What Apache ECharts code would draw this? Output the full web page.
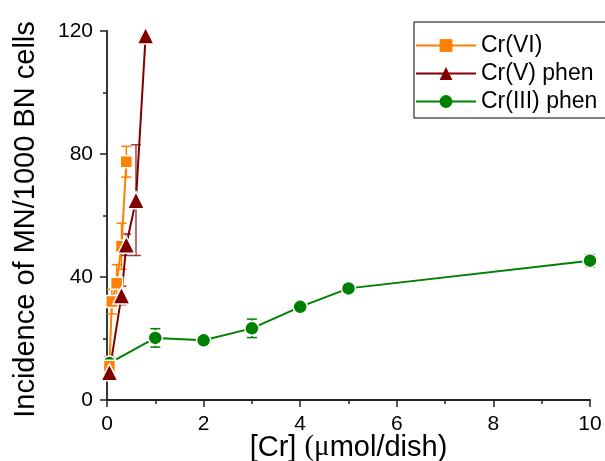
<!DOCTYPE html>
<html>
<head>
<meta charset="utf-8">
<script src="https://cdn.jsdelivr.net/npm/echarts@6/dist/echarts.min.js"></script>
<style>html,body{margin:0;padding:0;background:#fff}#c{width:605px;height:461px}</style>
</head>
<body>
<div id="c"></div>
<script>
// ---- data ----
var seriesNames = ['Cr(VI)', 'Cr(V) phen', 'Cr(III) phen'];
var crVI_x = [0.05, 0.1, 0.2, 0.3, 0.4];
var crVI_y = [11, 32, 38, 50, 77.5];
var crVI_err = [3, 4, 6, 7.5, 5];
var crV_x = [0.05, 0.3, 0.4, 0.6, 0.8];
var crV_y = [9, 34, 50.5, 65, 118.5];
var crV_err = [2, 3, 3.5, 18, 0];
var crIII_x = [0.05, 1, 2, 3, 4, 5, 10];
var crIII_y = [12, 20.2, 19.4, 23.3, 30.3, 36.3, 45.3];
var crIII_err = [2, 3, 1, 3, 1, 1, 2];
var xTicks = [0, 2, 4, 6, 8, 10];
var yTicks = [0, 40, 80, 120];

var colors = ['#ff7f00', '#800000', '#008000'];
var FONT = '"Liberation Sans", Arial, sans-serif';

function pts(xs, ys) { return xs.map(function (x, i) { return [x, ys[i]]; }); }
function errs(xs, ys, es) { return xs.map(function (x, i) { return [x, ys[i] - es[i], ys[i] + es[i]]; }); }

function errSeries(data, color, opacity) {
  return {
    type: 'custom',
    silent: true,
    z: 1,
    data: data,
    renderItem: function (params, api) {
      var x = api.value(0);
      var lo = api.coord([x, api.value(1)]);
      var hi = api.coord([x, api.value(2)]);
      var hw = 5;
      var st = { stroke: color, lineWidth: 1.5, opacity: opacity };
      return {
        type: 'group',
        children: [
          { type: 'line', shape: { x1: lo[0], y1: lo[1], x2: hi[0], y2: hi[1] }, style: st },
          { type: 'line', shape: { x1: lo[0] - hw, y1: lo[1], x2: lo[0] + hw, y2: lo[1] }, style: st },
          { type: 'line', shape: { x1: hi[0] - hw, y1: hi[1], x2: hi[0] + hw, y2: hi[1] }, style: st }
        ]
      };
    }
  };
}

function lineSeries(name, data, color, symbol, size) {
  return {
    name: name,
    type: 'line',
    data: data,
    z: 3,
    symbol: symbol,
    symbolSize: size,
    showAllSymbol: true,
    lineStyle: { color: color, width: 2 },
    itemStyle: { color: color, borderColor: '#fff', borderWidth: 1.5 },
    emphasis: { disabled: true },
    animation: false
  };
}

var chart = echarts.init(document.getElementById('c'), null, { renderer: 'canvas' });
chart.setOption({
  animation: false,
  backgroundColor: '#fff',
  grid: { left: 107, right: 15, top: 31, bottom: 61, containLabel: false, outerBoundsMode: 'none' },
  legend: {
    data: [
      { name: seriesNames[0], itemStyle: { borderWidth: 0 } },
      { name: seriesNames[1], itemStyle: { borderWidth: 0 } },
      { name: seriesNames[2], itemStyle: { borderWidth: 0 } }
    ],
    orient: 'vertical',
    left: 414,
    top: 22,
    itemWidth: 60,
    itemHeight: 16,
    itemGap: 5,
    padding: [12, 12, 5, 1],
    borderColor: '#000',
    borderWidth: 1,
    borderRadius: 0,
    textStyle: { fontFamily: FONT, fontSize: 23, color: '#000' }
  },
  xAxis: {
    type: 'value',
    min: 0, max: 10, interval: 2,
    name: '{a|[Cr] }{b|(μ}{a|mol/dish)}',
    nameLocation: 'middle',
    nameGap: 33,
    nameMoveOverlap: false,
    nameTextStyle: {
      rich: {
        a: { fontFamily: FONT, fontSize: 29, color: '#000' },
        b: { fontFamily: '"Liberation Serif", "Times New Roman", serif', fontSize: 29, color: '#000' }
      }
    },
    axisLine: { show: true, onZero: false, lineStyle: { color: '#222', width: 1.8 } },
    axisTick: { show: true, inside: false, length: 7, lineStyle: { color: '#222', width: 1.5 } },
    minorTick: { show: true, splitNumber: 2, length: 4, lineStyle: { color: '#222', width: 1.5 } },
    splitLine: { show: false },
    axisLabel: {
      fontFamily: FONT, fontSize: 21, color: '#000', margin: 14,
      formatter: function (v) { return xTicks.indexOf(v) >= 0 ? String(v) : ''; }
    }
  },
  yAxis: {
    type: 'value',
    min: 0, max: 120, interval: 40,
    name: 'Incidence of MN/1000 BN cells',
    nameLocation: 'middle',
    nameGap: 67,
    nameMoveOverlap: false,
    nameTextStyle: { fontFamily: FONT, fontSize: 29, color: '#000', padding: [0, 8, 0, 0] },
    axisLine: { show: true, onZero: false, lineStyle: { color: '#222', width: 1.8 } },
    axisTick: { show: true, inside: false, length: 7, lineStyle: { color: '#222', width: 1.5 } },
    minorTick: { show: true, splitNumber: 2, length: 4, lineStyle: { color: '#222', width: 1.5 } },
    splitLine: { show: false },
    axisLabel: {
      fontFamily: FONT, fontSize: 21, color: '#000', margin: 14,
      formatter: function (v) { return yTicks.indexOf(v) >= 0 ? String(v) : ''; }
    }
  },
  series: [
    errSeries(errs(crIII_x, crIII_y, crIII_err), colors[2], 1),
    errSeries(errs(crVI_x, crVI_y, crVI_err), colors[0], 1),
    errSeries(errs(crV_x, crV_y, crV_err), colors[1], 0.75),
    lineSeries(seriesNames[2], pts(crIII_x, crIII_y), colors[2], 'circle', 14),
    lineSeries(seriesNames[0], pts(crVI_x, crVI_y), colors[0], 'rect', 12),
    lineSeries(seriesNames[1], pts(crV_x, crV_y), colors[1], 'triangle', 17)
  ]
});
</script>
</body>
</html>
